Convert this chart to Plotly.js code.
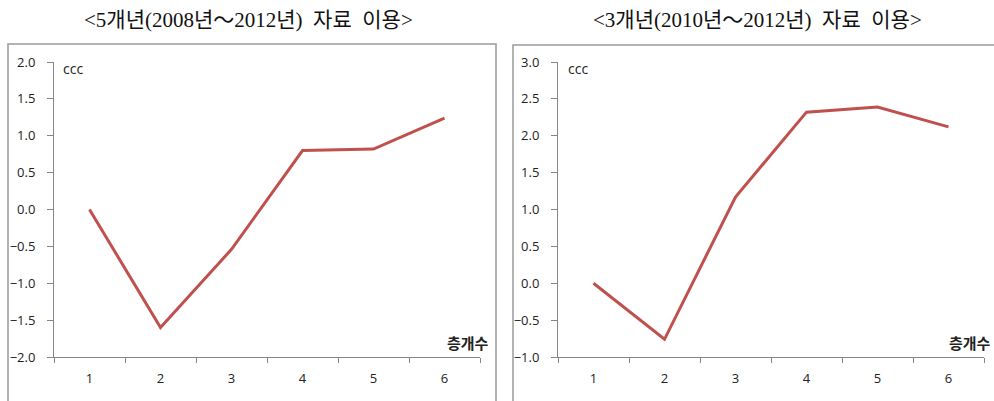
<!DOCTYPE html>
<html>
<head>
<meta charset="utf-8">
<script src="https://cdn.plot.ly/plotly-3.0.1.min.js"></script>
<style>html,body{margin:0;padding:0;background:#fff;}#chart{width:994px;height:401px;}</style>
</head>
<body>
<div id="chart"></div>
<script>
const categories = ['1', '2', '3', '4', '5', '6'];
const ccc5yr = [0.0, -1.60, -0.54, 0.80, 0.82, 1.24];
const ccc3yr = [0.0, -0.76, 1.17, 2.32, 2.39, 2.12];
const title5yr = '<5개년(2008년～2012년)  자료  이용>';
const title3yr = '<3개년(2010년～2012년)  자료  이용>';
const yLabel = 'ccc';
const xLabel = '층개수';

const W = 994, H = 401;
const px = v => v / W, py = v => 1 - v / H;

const lineStyle = {color: '#C0504D', width: 3};
const traces = [
  {x: categories, y: ccc5yr, type: 'scatter', mode: 'lines', line: lineStyle, xaxis: 'x', yaxis: 'y', hoverinfo: 'none'},
  {x: categories, y: ccc3yr, type: 'scatter', mode: 'lines', line: lineStyle, xaxis: 'x2', yaxis: 'y2', hoverinfo: 'none'}
];

const tickFont = {family: 'Open Sans, Liberation Sans, sans-serif', size: 13, color: '#222'};
function xa(domain) {
  return {domain: domain, type: 'category', range: [-0.5, 5.5], tickson: 'boundaries',
    ticks: 'outside', ticklen: 5, tickcolor: '#868686', tickwidth: 1,
    showline: true, linecolor: '#868686', linewidth: 1, showgrid: false, zeroline: false,
    tickfont: tickFont, ticklabelstandoff: 9, fixedrange: true};
}
function ya(domain, range, anchor) {
  return {domain: domain, range: range, dtick: 0.5, tickformat: '.1f', anchor: anchor,
    ticks: 'outside', ticklen: 6, tickcolor: '#868686', tickwidth: 1,
    showline: true, linecolor: '#868686', linewidth: 1, showgrid: false, zeroline: false,
    tickfont: tickFont, ticklabelstandoff: 9, fixedrange: true};
}
const yDom = [py(357), py(62)];
const layout = {
  width: W, height: H,
  margin: {l: 0, r: 0, t: 0, b: 0},
  paper_bgcolor: '#fff', plot_bgcolor: 'rgba(0,0,0,0)',
  showlegend: false,
  xaxis: Object.assign(xa([px(54), px(480)]), {anchor: 'y'}),
  yaxis: ya(yDom, [-2, 2], 'x'),
  xaxis2: Object.assign(xa([px(558), px(984)]), {anchor: 'y2'}),
  yaxis2: ya(yDom, [-1, 3], 'x2'),
  shapes: [
    {type: 'rect', xref: 'paper', yref: 'paper', x0: px(8), x1: px(496), y0: py(410), y1: py(44),
      line: {color: '#9a9a9a', width: 1.5}, fillcolor: 'rgba(0,0,0,0)', layer: 'below'},
    {type: 'rect', xref: 'paper', yref: 'paper', x0: px(513), x1: px(1005), y0: py(410), y1: py(45),
      line: {color: '#9a9a9a', width: 1.5}, fillcolor: 'rgba(0,0,0,0)', layer: 'below'}
  ],
  annotations: [
    {text: title5yr, xref: 'paper', yref: 'paper', x: px(249), y: py(20), showarrow: false,
      xanchor: 'center', yanchor: 'middle',
      font: {family: 'Liberation Serif, Noto Sans CJK KR, serif', size: 21, color: '#111'}},
    {text: title3yr, xref: 'paper', yref: 'paper', x: px(757), y: py(20), showarrow: false,
      xanchor: 'center', yanchor: 'middle',
      font: {family: 'Liberation Serif, Noto Sans CJK KR, serif', size: 21, color: '#111'}},
    {text: yLabel, xref: 'paper', yref: 'paper', x: px(61), y: py(68), showarrow: false,
      xanchor: 'left', yanchor: 'middle', font: {family: 'Open Sans, Liberation Sans, sans-serif', size: 14, color: '#222'}},
    {text: yLabel, xref: 'paper', yref: 'paper', x: px(566), y: py(68), showarrow: false,
      xanchor: 'left', yanchor: 'middle', font: {family: 'Open Sans, Liberation Sans, sans-serif', size: 14, color: '#222'}},
    {text: '<b>' + xLabel + '</b>', xref: 'paper', yref: 'paper', x: px(491), y: py(342), showarrow: false,
      xanchor: 'right', yanchor: 'middle', font: {family: 'Noto Sans CJK KR, sans-serif', size: 15, color: '#222'}},
    {text: '<b>' + xLabel + '</b>', xref: 'paper', yref: 'paper', x: px(993), y: py(342), showarrow: false,
      xanchor: 'right', yanchor: 'middle', font: {family: 'Noto Sans CJK KR, sans-serif', size: 15, color: '#222'}}
  ]
};
Plotly.newPlot('chart', traces, layout, {staticPlot: true, displayModeBar: false});
</script>
</body>
</html>
